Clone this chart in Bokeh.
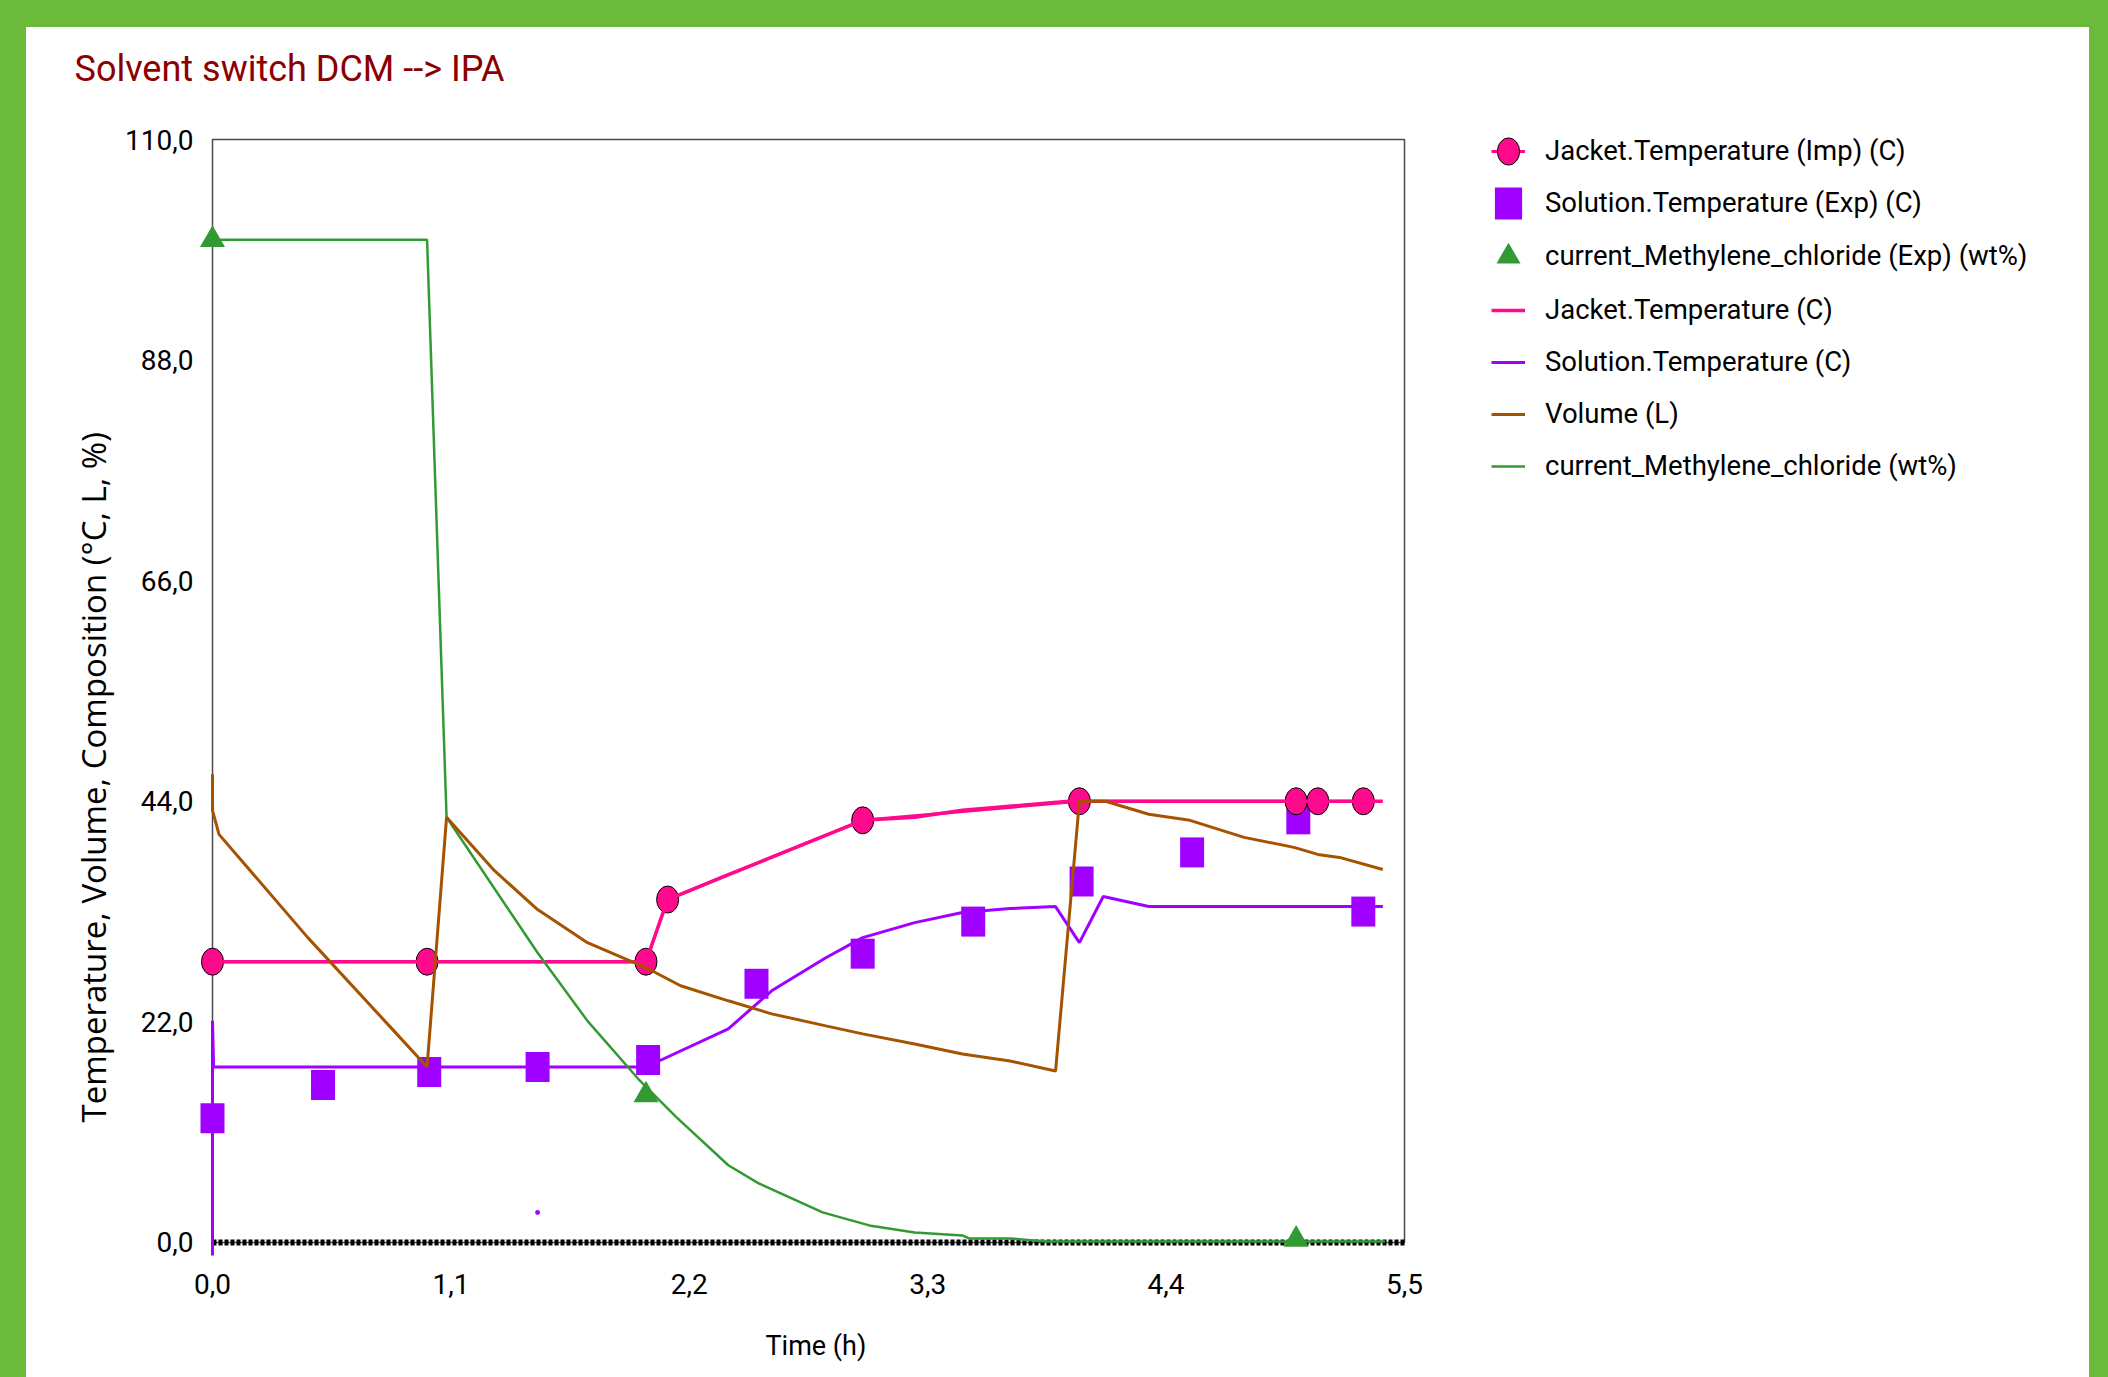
from bokeh.plotting import figure
from bokeh.models import (Range1d, FixedTicker, Legend, LegendItem, BoxAnnotation, Title)
from bokeh.embed import file_html
from bokeh.resources import INLINE

# ---------------- data ----------------
x_ticks = [0.0, 1.1, 2.2, 3.3, 4.4, 5.5]
x_tick_labels = ["0,0", "1,1", "2,2", "3,3", "4,4", "5,5"]
y_ticks = [0.0, 22.0, 44.0, 66.0, 88.0, 110.0]
y_tick_labels = ["0,0", "22,0", "44,0", "66,0", "88,0", "110,0"]

jacket_imp_time = [0.0, 0.99, 2.0, 2.10, 3.0, 4.0, 5.0, 5.10, 5.31]
jacket_imp_temp = [28.0, 28.0, 28.0, 34.2, 42.1, 44.0, 44.0, 44.0, 44.0]

solution_exp_time = [0.0, 0.51, 1.0, 1.5, 2.01, 2.51, 3.0, 3.51, 4.01, 4.52, 5.01, 5.31]
solution_exp_temp = [12.4, 15.7, 17.0, 17.5, 18.2, 25.8, 28.8, 32.0, 36.0, 38.9, 42.2, 33.0]

dcm_exp_time = [0.0, 2.0, 5.0]
dcm_exp_wt = [100.0, 14.7, 0.3]

jacket_sim_time = [0.0, 2.0, 2.10, 2.36, 2.51, 3.0, 3.24, 3.46, 3.95, 4.0, 5.40]
jacket_sim_temp = [28.0, 28.0, 34.2, 36.5, 37.8, 42.1, 42.4, 43.1, 44.0, 44.0, 44.0]

solution_sim_time = [0.0, 0.0, 0.005, 2.0, 2.38, 2.58, 2.83, 3.0, 3.24, 3.46, 3.68, 3.89, 4.0, 4.11, 4.32, 5.40]
solution_sim_temp = [-1.3, 22.1, 17.5, 17.5, 21.3, 25.1, 28.4, 30.4, 31.9, 32.9, 33.3, 33.5, 29.9, 34.5, 33.5, 33.5]

volume_time = [0.0, 0.0, 0.03, 0.44, 0.82, 0.99, 1.08, 1.30, 1.50, 1.73, 2.01, 2.16, 2.38, 2.58,
               2.83, 3.0, 3.24, 3.46, 3.68, 3.89, 4.0, 4.12, 4.32, 4.51, 4.76, 4.99, 5.10, 5.20, 5.40]
volume_L = [46.7, 43.1, 40.7, 30.4, 21.5, 17.5, 42.4, 37.1, 33.2, 29.9, 27.3, 25.6, 24.1, 22.8,
            21.6, 20.8, 19.8, 18.8, 18.1, 17.1, 44.0, 44.0, 42.7, 42.1, 40.4, 39.4, 38.7, 38.4, 37.2]

dcm_sim_time = [0.0, 0.99, 1.08, 1.50, 1.73, 1.965, 2.14, 2.38, 2.52, 2.815, 3.03, 3.24, 3.46,
                3.49, 3.68, 3.85, 5.41]
dcm_sim_wt = [100.0, 100.0, 42.4, 28.9, 22.1, 16.3, 12.5, 7.7, 5.9, 3.0, 1.7, 1.0, 0.7,
              0.4, 0.4, 0.1, 0.1]

zero_line_time = [0.0, 5.5]
zero_line_value = [0.0, 0.0]

stray_time = [1.5]
stray_value = [3.0]

# ---------------- style ----------------
FONT = "Roboto"
GREEN_BG = "#6BBA3B"
PINK = "#FF0A8C"
PURPLE = "#A000FF"
BROWN = "#A65300"
GREEN = "#339933"
TITLE_RED = "#8B0000"

W, H = 2063, 1350                  # white panel, placed at page (26, 27)
FL, FB = 173, 1230                 # frame left / bottom inside the figure
FT = 90                            # frame top (frame reaches above y=110 so the legend is not clipped)
Y110_PX = 112                      # pixel position of y = 110
FR = W - 5                         # frame reaches to the right so the legend is not clipped
X0_PX, X55_PX = 186, 1378          # pixel positions of t = 0 and t = 5.5
PX_PER_H = (X55_PX - X0_PX) / 5.5
X_START = -(X0_PX - FL) / PX_PER_H
X_END = 5.5 + (FR - X55_PX) / PX_PER_H
Y_START = -1.5
PX_PER_UNIT = (FB - Y110_PX) / (110.0 - Y_START)
Y_END = 110.0 + (Y110_PX - FT) / PX_PER_UNIT

p = figure(width=W, height=H, output_backend="svg", toolbar_location=None,
           x_range=Range1d(X_START, X_END), y_range=Range1d(Y_START, Y_END),
           min_border_left=FL, min_border_right=W - FR, min_border_top=FT,
           min_border_bottom=H - FB,
           border_fill_color="white", background_fill_color="white",
           outline_line_color=None, title=None)
p.styles = {"position": "relative", "left": "26px", "top": "27px",
            "box-shadow": "0 0 0 80px " + GREEN_BG}
p.grid.visible = False

# plot box outline
box = BoxAnnotation(left=0.0, right=5.5, bottom=0.0, top=110.0,
                    fill_alpha=0.0, fill_color=None, line_color="#4a4a4a",
                    line_alpha=1.0, line_width=1.5, level="underlay")
p.add_layout(box)

for ax in (p.xaxis[0], p.yaxis[0]):
    ax.axis_line_color = None
    ax.major_tick_line_color = None
    ax.minor_tick_line_color = None
    ax.major_label_text_font = FONT
    ax.major_label_text_font_size = "28px"
    ax.major_label_text_color = "black"

p.xaxis.ticker = FixedTicker(ticks=x_ticks)
p.xaxis.major_label_overrides = dict(zip(x_ticks, x_tick_labels))
p.xaxis.major_label_standoff = 10
p.yaxis.ticker = FixedTicker(ticks=y_ticks)
p.yaxis.major_label_overrides = dict(zip(y_ticks, y_tick_labels))
p.yaxis.major_label_standoff = 0

# ---------------- glyphs ----------------
p.line(zero_line_time, zero_line_value, line_color="black", line_width=6,
       line_dash="4 2")
p.scatter(stray_time, stray_value, size=4, color=PURPLE)

sq = p.rect(solution_exp_time, solution_exp_temp, width=24, height=30,
            width_units="screen", height_units="screen",
            fill_color=PURPLE, line_color=None)
tri = p.scatter(dcm_exp_time, dcm_exp_wt, marker="triangle", size=25,
                fill_color=GREEN, line_color=None)
imp_line = p.line(jacket_imp_time, jacket_imp_temp, line_color=PINK, line_width=3)
imp_pts = p.ellipse(jacket_imp_time, jacket_imp_temp, width=22, height=27,
                    width_units="screen", height_units="screen",
                    fill_color=PINK, line_color="black", line_width=1)

jac_line = p.line(jacket_sim_time, jacket_sim_temp, line_color=PINK, line_width=3.5)
sol_line = p.line(solution_sim_time, solution_sim_temp, line_color=PURPLE, line_width=3)
dcm_line = p.line(dcm_sim_time, dcm_sim_wt, line_color=GREEN, line_width=2.5)
vol_line = p.line(volume_time, volume_L, line_color=BROWN, line_width=3)

# ---------------- legend (three stacked parts so the triangle keeps its size) ----------------
def make_legend(items, loc, glyph_h, standoff, spacing=12):
    lg = Legend(items=items, location=loc)
    lg.label_text_font = FONT
    lg.label_text_font_size = "27.5px"
    lg.label_text_color = "black"
    lg.glyph_width = glyph_h if glyph_h > 40 else 34
    lg.glyph_height = glyph_h
    lg.label_height = glyph_h
    lg.label_standoff = standoff
    lg.spacing = spacing
    lg.padding = 0
    lg.margin = 0
    lg.border_line_color = None
    lg.background_fill_alpha = 0.0
    return lg

LEG_X = 1465 - FL
leg_a = make_legend([
    LegendItem(label="Jacket.Temperature (Imp) (C)", renderers=[imp_line, imp_pts]),
    LegendItem(label="Solution.Temperature (Exp) (C)", renderers=[sq]),
], (LEG_X, FB - 195.5), 40, 20)
leg_b = make_legend([
    LegendItem(label="current_Methylene_chloride (Exp) (wt%)", renderers=[tri]),
], (LEG_X - 13, FB - 258.5), 60, 7)
leg_c = make_legend([
    LegendItem(label="Jacket.Temperature (C)", renderers=[jac_line]),
    LegendItem(label="Solution.Temperature (C)", renderers=[sol_line]),
    LegendItem(label="Volume (L)", renderers=[vol_line]),
    LegendItem(label="current_Methylene_chloride (wt%)", renderers=[dcm_line]),
], (LEG_X, FB - 458.5), 40, 20)
for lg in (leg_a, leg_b, leg_c):
    p.add_layout(lg)

# ---------------- texts ----------------
main_title = Title(text="Solvent switch DCM --> IPA", align="left", offset=-125,
                   standoff=0, text_font=FONT, text_font_size="36px",
                   text_font_style="normal", text_color=TITLE_RED,
                   padding=dict(left=0, right=0, top=0, bottom=28))
p.add_layout(main_title, "above")

ylab = Title(text="Temperature, Volume, Composition (°C, L, %)", align="left",
             offset=135, standoff=14, text_font="Open Sans", text_font_size="33px",
             text_font_style="normal", text_color="black")
p.add_layout(ylab, "left")

xlab = Title(text="Time (h)", align="left", offset=739 - FL, standoff=0,
             text_font=FONT, text_font_size="27px", text_font_style="normal",
             text_color="black", padding=dict(left=0, right=0, top=31, bottom=0))
p.add_layout(xlab, "below")

open("out.html", "w").write(file_html(p, INLINE))
